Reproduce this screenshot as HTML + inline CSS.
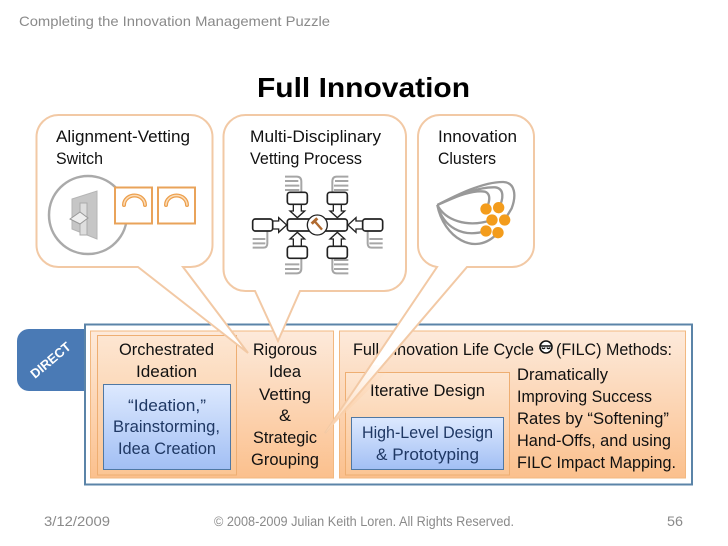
<!DOCTYPE html>
<html><head><meta charset="utf-8"><style>
html,body{margin:0;padding:0;background:#fff;width:728px;height:546px;overflow:hidden}
svg{display:block}
text{font-family:"Liberation Sans",sans-serif;font-size:16.5px;fill:#111}
.b text{fill:#1f3864}
.g{fill:#8a8a8a;font-size:14px}
.c{fill:none;stroke:#999;stroke-width:7}
.k{fill:#fff;stroke:#222;stroke-width:5}
.a{fill:#fff;stroke:#222;stroke-width:4;stroke-linejoin:miter}
.l{fill:none;stroke:#a6a6a6;stroke-width:6}
</style></head><body>
<svg width="728" height="546" viewBox="0 0 728 546" xmlns="http://www.w3.org/2000/svg">
<defs>
<linearGradient id="o" x1="0" y1="0" x2="0" y2="1"><stop offset="0" stop-color="#fdeadb"/><stop offset="1" stop-color="#fbc08d"/></linearGradient>
<linearGradient id="o2" x1="0" y1="0" x2="0" y2="1"><stop offset="0" stop-color="#fde6d2"/><stop offset="1" stop-color="#fbc594"/></linearGradient>
<linearGradient id="bl" x1="0" y1="0" x2="0" y2="1"><stop offset="0" stop-color="#dde9fe"/><stop offset="1" stop-color="#a2bff4"/></linearGradient>
<linearGradient id="fade" gradientUnits="userSpaceOnUse" x1="385" y1="365" x2="325" y2="433"><stop offset="0" stop-color="#fcd3ae" stop-opacity="0"/><stop offset="1" stop-color="#fcd3ae" stop-opacity=".95"/></linearGradient>
</defs>
<rect width="728" height="546" fill="#fff"/>

<text class="g" x="19" y="26" textLength="311" lengthAdjust="spacingAndGlyphs">Completing the Innovation Management Puzzle</text>
<text x="257" y="97" textLength="213" lengthAdjust="spacingAndGlyphs" style="font-size:28px;font-weight:bold;fill:#000">Full Innovation</text>

<!-- DIRECT tab -->
<path d="M85 329 H29 A12 12 0 0 0 17 341 V379 A12 12 0 0 0 29 391 H85 Z" fill="#4a7ab5"/>
<text transform="translate(35,379) rotate(-40)" textLength="48" lengthAdjust="spacingAndGlyphs" style="font-size:13px;font-weight:bold;fill:#fff">DIRECT</text>

<!-- main frame -->
<rect x="85" y="324.5" width="607" height="160" fill="#fff" stroke="#5b84a8" stroke-width="2"/>

<!-- left box -->
<rect x="90.5" y="331" width="243" height="147" fill="url(#o)" stroke="#f2b880"/>
<rect x="97.5" y="335.5" width="139" height="139.5" fill="url(#o2)" stroke="#eeae72"/>
<rect x="103.5" y="384.5" width="127" height="85" fill="url(#bl)" stroke="#4f78a4"/>
<text x="119" y="355" textLength="95" lengthAdjust="spacingAndGlyphs">Orchestrated</text>
<text x="136" y="377" textLength="61" lengthAdjust="spacingAndGlyphs">Ideation</text>
<g class="b">
<text x="128" y="411" textLength="78" lengthAdjust="spacingAndGlyphs">“Ideation,”</text>
<text x="113" y="432" textLength="107" lengthAdjust="spacingAndGlyphs">Brainstorming,</text>
<text x="118" y="454" textLength="98" lengthAdjust="spacingAndGlyphs">Idea Creation</text>
</g>
<text x="253" y="355" textLength="64" lengthAdjust="spacingAndGlyphs">Rigorous</text>
<text x="269" y="377" textLength="32" lengthAdjust="spacingAndGlyphs">Idea</text>
<text x="259" y="400" textLength="52" lengthAdjust="spacingAndGlyphs">Vetting</text>
<text x="279" y="421" textLength="12" lengthAdjust="spacingAndGlyphs">&amp;</text>
<text x="253" y="443" textLength="64" lengthAdjust="spacingAndGlyphs">Strategic</text>
<text x="251" y="465" textLength="68" lengthAdjust="spacingAndGlyphs">Grouping</text>

<!-- right box -->
<rect x="339.5" y="331" width="346" height="147" fill="url(#o)" stroke="#f2b880"/>
<rect x="345.5" y="372.5" width="164" height="102.5" fill="url(#o2)" stroke="#eeae72"/>
<rect x="351.5" y="417.5" width="152" height="52" fill="url(#bl)" stroke="#4f78a4"/>
<text x="353" y="355" textLength="181" lengthAdjust="spacingAndGlyphs">Full Innovation Life Cycle</text>
<circle cx="546" cy="347" r="6" fill="#fff" stroke="#111" stroke-width="1.6"/>
<path d="M541 346 h10 M542 347.5 a1.6 1.6 0 0 0 3 0 M547 347.5 a1.6 1.6 0 0 0 3 0" stroke="#111" stroke-width="1.4" fill="none"/>
<text x="556" y="355" textLength="116" lengthAdjust="spacingAndGlyphs">(FILC) Methods:</text>
<text x="370" y="396" textLength="115" lengthAdjust="spacingAndGlyphs">Iterative Design</text>
<g class="b">
<text x="362" y="438" textLength="131" lengthAdjust="spacingAndGlyphs">High-Level Design</text>
<text x="376" y="460" textLength="103" lengthAdjust="spacingAndGlyphs">&amp; Prototyping</text>
</g>
<text x="517" y="380" textLength="91" lengthAdjust="spacingAndGlyphs">Dramatically</text>
<text x="517" y="402" textLength="135" lengthAdjust="spacingAndGlyphs">Improving Success</text>
<text x="517" y="424" textLength="152" lengthAdjust="spacingAndGlyphs">Rates by “Softening”</text>
<text x="517" y="446" textLength="154" lengthAdjust="spacingAndGlyphs">Hand-Offs, and using</text>
<text x="517" y="468" textLength="159" lengthAdjust="spacingAndGlyphs">FILC Impact Mapping.</text>

<!-- bubbles -->
<g fill="#fff" stroke="#f2c9a5" stroke-width="2" stroke-linejoin="miter">
<path d="M59 115 H190 A22 22 0 0 1 212.5 137 V245 A22 22 0 0 1 190 267 H183 L248 353 L138 267 H59 A22 22 0 0 1 36.5 245 V137 A22 22 0 0 1 59 115 Z"/>
<path d="M246 115 H384 A22 22 0 0 1 406 137 V269 A22 22 0 0 1 384 291 H300 L278 341 L255 291 H246 A22 22 0 0 1 223.5 269 V137 A22 22 0 0 1 246 115 Z"/>
<path d="M440 115 H512 A22 22 0 0 1 534 137 V245 A22 22 0 0 1 512 267 H467 L325 433 L437 267 A22 22 0 0 1 418 245 V137 A22 22 0 0 1 440 115 Z"/>
</g>
<path d="M394 365 L325 433 L372 365 Z" fill="url(#fade)"/>

<text x="56" y="142" textLength="134" lengthAdjust="spacingAndGlyphs">Alignment-Vetting</text>
<text x="56" y="164" textLength="47" lengthAdjust="spacingAndGlyphs">Switch</text>
<text x="250" y="142" textLength="131" lengthAdjust="spacingAndGlyphs">Multi-Disciplinary</text>
<text x="250" y="164" textLength="112" lengthAdjust="spacingAndGlyphs">Vetting Process</text>
<text x="438" y="142" textLength="79" lengthAdjust="spacingAndGlyphs">Innovation</text>
<text x="438" y="164" textLength="58" lengthAdjust="spacingAndGlyphs">Clusters</text>

<!-- switch icon -->
<circle cx="88" cy="215" r="39" fill="none" stroke="#aaa" stroke-width="2.5"/>
<path d="M72 199 L97 191 V239 L72 229 Z" fill="#c6c6c6" stroke="#b5b5b5"/>
<path d="M80 203 h7 v32 h-7 Z" fill="#dedede" stroke="#aaa"/>
<path d="M70 219 L80 212 L88 218 L80 224 Z" fill="#eee" stroke="#999"/>
<g fill="#fff" stroke="#e9a35a" stroke-width="2">
<rect x="115" y="187.5" width="37" height="36"/>
<rect x="158" y="187.5" width="37" height="36"/>
</g>
<g fill="none">
<path d="M124 205 A10.5 9.5 0 0 1 145 205" stroke="#ec9f4c" stroke-width="4" stroke-linecap="round"/>
<path d="M124 205 A10.5 9.5 0 0 1 145 205" stroke="#fbdcb8" stroke-width="1.5" stroke-linecap="round"/>
<path d="M166 205 A10.5 9.5 0 0 1 187 205" stroke="#ec9f4c" stroke-width="4" stroke-linecap="round"/>
<path d="M166 205 A10.5 9.5 0 0 1 187 205" stroke="#fbdcb8" stroke-width="1.5" stroke-linecap="round"/>
</g>

<!-- vetting icon (coordinates in 3x zoom space) -->
<g transform="translate(230,165) scale(.33333)">
<path class="l" d="M165 35 H200 Q214 35 214 50 V82 M165 48 H205 M165 62 H208 M165 75 H208"/>
<path class="l" d="M355 35 H320 Q307 35 307 50 V82 M355 48 H315 M355 62 H312 M355 75 H312"/>
<path class="l" d="M165 325 H200 Q214 325 214 310 V280 M165 312 H208 M165 298 H208"/>
<path class="l" d="M355 325 H320 Q307 325 307 310 V280 M355 312 H312 M355 298 H312 M355 285 H312"/>
<path class="l" d="M68 248 H100 Q112 248 112 235 V198 M68 235 H106 M68 222 H106"/>
<path class="l" d="M458 248 H425 Q413 248 413 235 V198 M458 235 H418 M458 222 H418"/>
<path class="a" d="M190 118 H214 V138 H224 L202 158 L180 138 H190 Z"/>
<path class="a" d="M310 118 H334 V138 H344 L322 158 L300 138 H310 Z"/>
<path class="a" d="M190 244 H214 V222 H224 L202 202 L180 222 H190 Z"/>
<path class="a" d="M310 244 H334 V222 H344 L322 202 L300 222 H310 Z"/>
<path class="a" d="M128 168 H146 V158 L170 180 L146 202 V192 H128 Z"/>
<path class="a" d="M398 168 H378 V158 L354 180 L378 202 V192 H398 Z"/>
<rect class="k" x="172" y="82" width="60" height="36" rx="8"/>
<rect class="k" x="292" y="82" width="60" height="36" rx="8"/>
<rect class="k" x="172" y="244" width="60" height="36" rx="8"/>
<rect class="k" x="292" y="244" width="60" height="36" rx="8"/>
<rect class="k" x="68" y="162" width="60" height="36" rx="8"/>
<rect class="k" x="398" y="162" width="60" height="36" rx="8"/>
<rect class="k" x="172" y="162" width="180" height="36" rx="8"/>
<circle cx="262" cy="180" r="30" fill="#fff" stroke="#222" stroke-width="4"/>
<path d="M255 170 L276 194" stroke="#b06a30" stroke-width="7"/>
<path d="M245 176 L262 160" stroke="#b06a30" stroke-width="9"/>
</g>

<!-- clusters icon -->
<g transform="translate(420,170) scale(.33333)">
<path class="c" d="M52 105 C110 75 190 35 250 36 C285 38 290 75 275 115 L254 150"/>
<path class="c" d="M52 105 C110 80 170 50 225 52 C255 55 250 90 236 113"/>
<path class="c" d="M52 105 C110 75 165 60 195 65 C215 72 208 100 198 117"/>
<path class="c" d="M52 105 C75 150 140 175 216 150"/>
<path class="c" d="M52 105 C70 170 125 205 198 183"/>
<path class="c" d="M52 105 C70 200 165 265 234 188"/>
<g fill="#f39c1c">
<circle cx="198" cy="117" r="17"/><circle cx="236" cy="113" r="17"/>
<circle cx="216" cy="150" r="17"/><circle cx="254" cy="150" r="17"/>
<circle cx="198" cy="183" r="17"/><circle cx="234" cy="188" r="17"/>
</g>
</g>

<!-- footer -->
<text class="g" x="44" y="526" textLength="66" lengthAdjust="spacingAndGlyphs">3/12/2009</text>
<text class="g" x="214" y="526" textLength="300" lengthAdjust="spacingAndGlyphs">© 2008-2009 Julian Keith Loren. All Rights Reserved.</text>
<text class="g" x="667" y="526" textLength="16" lengthAdjust="spacingAndGlyphs">56</text>
</svg>
</body></html>
